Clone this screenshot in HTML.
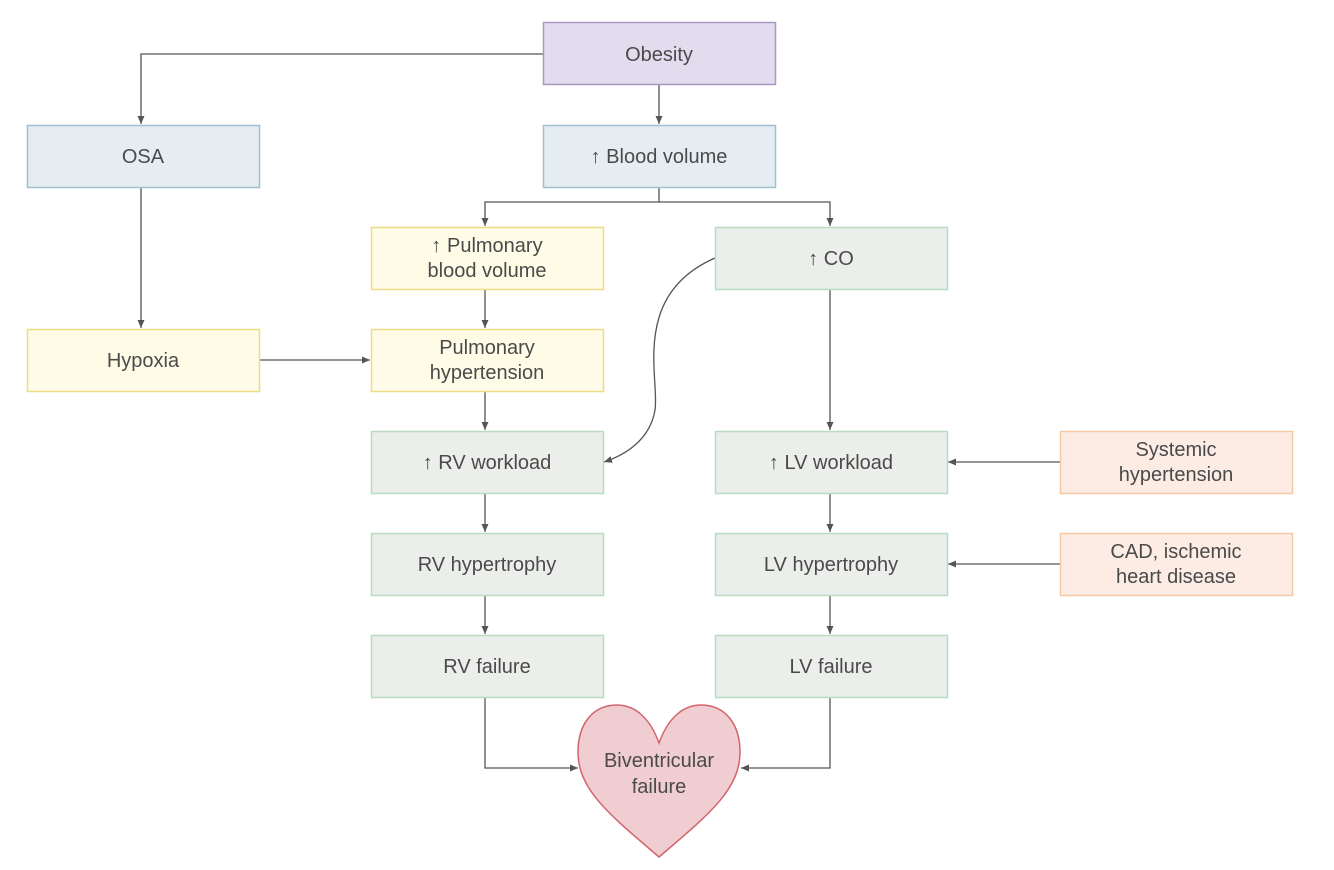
<!DOCTYPE html>
<html><head><meta charset="utf-8"><style>
html,body{margin:0;padding:0;background:#fff;}
svg{display:block}
text{font-family:"Liberation Sans",sans-serif;font-size:20px;fill:#4a4a4a;text-anchor:middle;}
</style></head><body>
<svg width="1334" height="870" viewBox="0 0 1334 870" xmlns="http://www.w3.org/2000/svg">
<defs>
<marker id="a" markerWidth="10" markerHeight="10" refX="8" refY="4" orient="auto" markerUnits="userSpaceOnUse">
<path d="M0,0.5 L8,4 L0,7.5 Z" fill="#555"/></marker>
</defs>
<g fill="none" stroke="#555" stroke-width="1.3">
<path d="M543,54 H141 V124" marker-end="url(#a)"/>
<path d="M659,84 V124" marker-end="url(#a)"/>
<path d="M659,187 V202 H485 V226" marker-end="url(#a)"/>
<path d="M659,202 H830 V226" marker-end="url(#a)"/>
<path d="M485,289 V328" marker-end="url(#a)"/>
<path d="M141,187 V328" marker-end="url(#a)"/>
<path d="M259,360 H370" marker-end="url(#a)"/>
<path d="M485,391 V430" marker-end="url(#a)"/>
<path d="M715,258 C630,295 660,380 655,410 C650,440 625,455 604,462" marker-end="url(#a)"/>
<path d="M830,289 V430" marker-end="url(#a)"/>
<path d="M1060,462 H948" marker-end="url(#a)"/>
<path d="M1060,564 H948" marker-end="url(#a)"/>
<path d="M485,493 V532" marker-end="url(#a)"/>
<path d="M485,595 V634" marker-end="url(#a)"/>
<path d="M830,493 V532" marker-end="url(#a)"/>
<path d="M830,595 V634" marker-end="url(#a)"/>
<path d="M485,697 V768 H578" marker-end="url(#a)"/>
<path d="M830,697 V768 H741" marker-end="url(#a)"/>
</g>
<g stroke-width="1.5">
<rect x="543.5" y="22.5" width="232" height="62" fill="#e3dbee" stroke="#a999c2"/>
<rect x="27.5" y="125.5" width="232" height="62" fill="#e6edf2" stroke="#9fbfd1"/>
<rect x="543.5" y="125.5" width="232" height="62" fill="#e6edf2" stroke="#9fbfd1"/>
<rect x="371.5" y="227.5" width="232" height="62" fill="#fefce6" stroke="#f0dc86"/>
<rect x="715.5" y="227.5" width="232" height="62" fill="#ebeeea" stroke="#b8dcc1"/>
<rect x="27.5" y="329.5" width="232" height="62" fill="#fefce6" stroke="#f0dc86"/>
<rect x="371.5" y="329.5" width="232" height="62" fill="#fefce6" stroke="#f0dc86"/>
<rect x="371.5" y="431.5" width="232" height="62" fill="#ebeeea" stroke="#b8dcc1"/>
<rect x="715.5" y="431.5" width="232" height="62" fill="#ebeeea" stroke="#b8dcc1"/>
<rect x="1060.5" y="431.5" width="232" height="62" fill="#fcece4" stroke="#f5c9a6"/>
<rect x="371.5" y="533.5" width="232" height="62" fill="#ebeeea" stroke="#b8dcc1"/>
<rect x="715.5" y="533.5" width="232" height="62" fill="#ebeeea" stroke="#b8dcc1"/>
<rect x="1060.5" y="533.5" width="232" height="62" fill="#fcece4" stroke="#f5c9a6"/>
<rect x="371.5" y="635.5" width="232" height="62" fill="#ebeeea" stroke="#b8dcc1"/>
<rect x="715.5" y="635.5" width="232" height="62" fill="#ebeeea" stroke="#b8dcc1"/>
<path d="M659,743 C650,718 635,705 617,705 C592,705 578,725 578,752 C578,790 610,815 659,857 C708,815 740,790 740,752 C740,725 726,705 701,705 C683,705 668,718 659,743 Z" fill="#efcdd0" stroke="#d2646c"/>
</g>
<text x="659" y="61">Obesity</text>
<text x="143" y="163">OSA</text>
<text x="659" y="163">↑ Blood volume</text>
<text x="487" y="252">↑ Pulmonary</text>
<text x="487" y="277">blood volume</text>
<text x="831" y="265">↑ CO</text>
<text x="143" y="367">Hypoxia</text>
<text x="487" y="354">Pulmonary</text>
<text x="487" y="379">hypertension</text>
<text x="487" y="469">↑ RV workload</text>
<text x="831" y="469">↑ LV workload</text>
<text x="1176" y="456">Systemic</text>
<text x="1176" y="481">hypertension</text>
<text x="487" y="571">RV hypertrophy</text>
<text x="831" y="571">LV hypertrophy</text>
<text x="1176" y="558">CAD, ischemic</text>
<text x="1176" y="583">heart disease</text>
<text x="487" y="673">RV failure</text>
<text x="831" y="673">LV failure</text>
<text x="659" y="767">Biventricular</text>
<text x="659" y="793">failure</text>
</svg>
</body></html>
